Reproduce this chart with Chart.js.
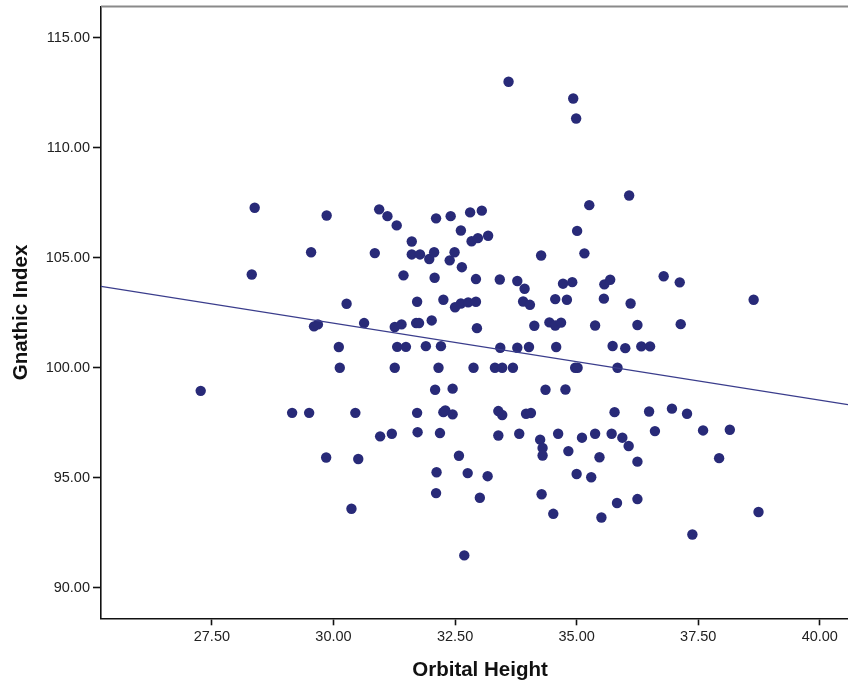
<!DOCTYPE html>
<html>
<head>
<meta charset="utf-8">
<title>Gnathic Index by Orbital Height</title>
<script src="https://cdn.jsdelivr.net/npm/chart.js@4.4.1/dist/chart.umd.min.js"></script>
<style>
	html, body { margin: 0; padding: 0; background: #fff; }
	canvas { display: block; }
</style>
</head>
<body>
<canvas id="myChart" width="848" height="686"></canvas>
<script>
// one entry per case: orbital height (x) and gnathic index (y)
const orbitalHeight = [
	28.38, 28.32, 27.27, 29.15, 29.50, 29.54, 29.86, 29.60, 29.68, 30.11,
	30.13, 30.27, 30.45, 29.85, 30.51, 30.37, 30.63, 30.85, 30.94, 31.11,
	31.30, 30.96, 31.20, 31.26, 31.40, 31.31, 31.49, 31.26, 31.44, 31.61,
	31.61, 31.78, 31.72, 31.70, 31.76, 31.72, 31.73, 31.90, 31.97, 32.02,
	32.07, 32.08, 32.11, 32.09, 32.12, 32.11, 32.16, 32.19, 32.21, 32.26,
	32.26, 32.30, 32.45, 32.45, 32.39, 32.41, 32.49, 32.50, 32.62, 32.77,
	32.93, 32.58, 32.62, 32.64, 32.69, 32.76, 32.81, 32.84, 32.97, 33.18,
	33.05, 32.88, 32.93, 32.95, 33.17, 33.01, 33.32, 33.47, 33.69, 33.39,
	33.47, 33.39, 33.43, 33.42, 33.60, 33.78, 33.78, 33.82, 33.93, 33.90,
	34.04, 33.96, 34.06, 34.02, 34.13, 34.27, 34.25, 34.30, 34.30, 34.28,
	34.36, 34.44, 34.56, 34.68, 34.52, 34.56, 34.58, 34.62, 34.72, 34.77,
	34.80, 34.83, 34.91, 34.93, 34.97, 35.02, 34.99, 35.01, 35.00, 35.11,
	35.16, 35.26, 35.30, 35.38, 35.38, 35.47, 35.51, 35.56, 35.57, 35.69,
	35.72, 35.74, 35.78, 35.83, 35.84, 35.94, 36.00, 36.07, 36.08, 36.11,
	36.25, 36.25, 36.25, 36.33, 36.51, 36.49, 36.61, 36.79, 36.96, 37.12,
	37.14, 37.27, 37.38, 37.60, 37.93, 38.15, 38.64, 38.74
];
const gnathicIndex = [
	107.27, 104.24, 98.95, 97.95, 97.95, 105.25, 106.92, 101.88, 101.97, 100.94,
	100.00, 102.91, 97.95, 95.92, 95.85, 93.59, 102.03, 105.21, 107.20, 106.89,
	106.47, 96.88, 97.00, 101.85, 101.97, 100.95, 100.95, 100.00, 104.20, 105.74,
	105.15, 105.15, 103.00, 102.03, 102.03, 97.95, 97.07, 100.98, 104.94, 102.15,
	105.25, 104.09, 106.79, 99.00, 95.25, 94.30, 100.00, 97.03, 100.98, 103.09,
	97.98, 98.06, 97.88, 99.05, 104.88, 106.89, 105.25, 102.75, 102.92, 102.97,
	103.00, 96.00, 106.24, 104.57, 91.47, 95.21, 107.06, 105.75, 105.89, 106.00,
	107.14, 100.00, 104.03, 101.80, 95.07, 94.09, 100.00, 100.00, 100.00, 98.03,
	97.85, 96.92, 100.91, 104.01, 113.00, 100.91, 103.94, 97.00, 103.59, 103.01,
	102.86, 97.91, 97.94, 100.94, 101.91, 105.10, 96.73, 96.35, 96.01, 94.25,
	99.00, 102.06, 101.92, 102.05, 93.36, 103.12, 100.94, 97.00, 103.82, 99.01,
	103.09, 96.21, 103.89, 112.24, 100.00, 100.00, 111.33, 106.22, 95.17, 96.82,
	105.20, 107.39, 95.02, 101.92, 97.00, 95.93, 93.19, 103.14, 103.79, 104.00,
	97.00, 100.99, 97.98, 93.85, 100.00, 96.82, 100.89, 96.44, 107.83, 102.92,
	101.94, 95.73, 94.03, 100.97, 100.97, 98.01, 97.12, 104.16, 98.14, 103.88,
	101.98, 97.91, 92.42, 97.15, 95.89, 97.18, 103.09, 93.44
];

// linear fit, drawn across the whole x range
const fitX = [25.22, 40.58];
const fitY = [103.70, 98.32];

const xTicks = [27.5, 30, 32.5, 35, 37.5, 40];
const yTicks = [90, 95, 100, 105, 110, 115];
const xTitle = 'Orbital Height';
const yTitle = 'Gnathic Index';

const navy = '#282a78';
const fontFamily = '"Liberation Sans", Arial, sans-serif';

const points = orbitalHeight.map((x, i) => ({ x: x, y: gnathicIndex[i] }));
const fitLine = fitX.map((x, i) => ({ x: x, y: fitY[i] }));

// grey top frame line and the two bold axis titles
const frameAndTitles = {
	id: 'frameAndTitles',
	afterDraw(chart) {
		const { ctx, chartArea } = chart;
		ctx.save();
		ctx.strokeStyle = '#8a8a8a';
		ctx.lineWidth = 2;
		ctx.beginPath();
		ctx.moveTo(chartArea.left, chartArea.top);
		ctx.lineTo(chartArea.right, chartArea.top);
		ctx.stroke();

		ctx.fillStyle = '#111';
		ctx.font = 'bold 20.5px ' + fontFamily;
		ctx.textAlign = 'center';
		ctx.textBaseline = 'middle';
		ctx.fillText(xTitle, 480, 670);
		ctx.translate(21, (chartArea.top + chartArea.bottom) / 2);
		ctx.rotate(-Math.PI / 2);
		ctx.fillText(yTitle, 0, 0);
		ctx.restore();
	}
};

const tickFont = { family: fontFamily, size: 14.5 };

const ctx = document.getElementById('myChart').getContext('2d');
const myChart = new Chart(ctx, {
	type: 'scatter',
	data: {
		datasets: [{
			type: 'line',
			label: 'fit',
			data: fitLine,
			borderColor: '#3a3d8c',
			borderWidth: 1.2,
			pointRadius: 0,
			fill: false,
			order: 0
		}, {
			label: 'cases',
			data: points,
			backgroundColor: navy,
			borderWidth: 0,
			pointRadius: 5.2,
			order: 1
		}]
	},
	options: {
		responsive: false,
		animation: false,
		layout: {
			autoPadding: false,
			padding: { top: 6.5, right: 0, bottom: 0, left: 0 }
		},
		plugins: {
			legend: { display: false },
			tooltip: { enabled: false }
		},
		scales: {
			x: {
				type: 'linear',
				min: 25.22,
				max: 40.58,
				afterFit: s => {
					s.height = 67.7;
					s.paddingLeft = 0;
					s.paddingRight = 0;
				},
				afterBuildTicks: s => { s.ticks = xTicks.map(v => ({ value: v })); },
				border: { color: '#111', width: 1.6 },
				grid: { drawOnChartArea: false, tickLength: 7, tickColor: '#111', tickWidth: 1.6 },
				ticks: {
					font: tickFont,
					color: '#222',
					padding: 3,
					maxRotation: 0,
					callback: v => v.toFixed(2)
				}
			},
			y: {
				type: 'linear',
				min: 88.61,
				max: 116.42,
				afterFit: s => {
					s.width = 101;
					s.paddingTop = 0;
					s.paddingBottom = 0;
				},
				afterBuildTicks: s => { s.ticks = yTicks.map(v => ({ value: v })); },
				border: { color: '#111', width: 1.6 },
				grid: { drawOnChartArea: false, tickLength: 8, tickColor: '#111', tickWidth: 1.6 },
				ticks: {
					font: tickFont,
					color: '#222',
					padding: 3,
					callback: v => v.toFixed(2)
				}
			}
		}
	},
	plugins: [frameAndTitles]
});
</script>
</body>
</html>
